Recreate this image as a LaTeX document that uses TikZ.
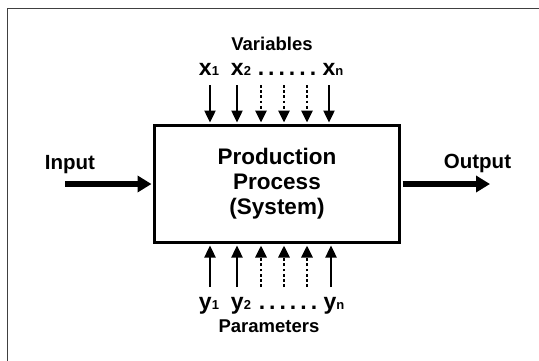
\documentclass[tikz,border=0pt]{standalone}
\usepackage{fontspec}
\setmainfont{Liberation Sans}
\usetikzlibrary{arrows.meta}
% subscript digit set small on the baseline
\newcommand\lowidx[1]{{\fontsize{13}{13}\selectfont #1}}
% row of six dots
\newcommand\dotrow{.\hspace{4pt}.\hspace{4pt}.\hspace{4pt}.\hspace{4pt}.\hspace{4pt}.}
\tikzset{
  frameline/.style={draw=black!75, line width=1.6pt},
  procbox/.style={draw=black, line width=3pt, minimum width=245pt, minimum height=117pt,
    align=center, font=\fontsize{22.5}{25}\selectfont\bfseries, inner sep=0pt},
  thinarrow/.style={line width=2.4pt, -{Triangle[length=12pt,width=11pt]}},
  dotarrow/.style={line width=2.8pt, dash pattern=on 2.8pt off 2.4pt,
    -{Triangle[length=12pt,width=11pt]}},
  fatarrow/.style={line width=5.5pt, -{Triangle[length=14pt,width=16pt]}},
  biglabel/.style={font=\fontsize{20.5}{20.5}\selectfont\bfseries, anchor=base, inner sep=0pt},
  titlelabel/.style={font=\fontsize{18.5}{18.5}\selectfont\bfseries, anchor=base, inner sep=0pt},
  idxlabel/.style={font=\fontsize{23}{23}\selectfont\bfseries, anchor=base, inner sep=0pt},
}
\begin{document}
\begin{tikzpicture}[x=1pt, y=-1pt]
\useasboundingbox (0,0) rectangle (539,360);
% outer frame, running off the right and lower edges
\fill[white] (7.5,8.5) rectangle (545,365);
\draw[frameline] (7.5,365) -- (7.5,8.5) -- (545,8.5);

% the process block
\node[procbox] (proc) at (277,184) {Production\\Process\\(System)};

% input and output
\node[biglabel] (inlab) at (70,169) {Input};
\node[biglabel] (outlab) at (477.5,168) {Output};
\coordinate (instart) at (65,184);
\coordinate (outend) at (490,184);
\draw[fatarrow, shorten >=1.5pt] (instart) -- (instart -| proc.west);
\draw[fatarrow, shorten <=1.5pt] (instart -| proc.east) -- (outend);

% variables above the block
\node[titlelabel] (varlab) at (272,50.5) {Variables};
\node[idxlabel] (x1) at (209,75) {x\lowidx{1}};
\node[idxlabel] (x2) at (241,75) {x\lowidx{2}};
\node[idxlabel] (xdots) at (287,75) {\dotrow};
\node[idxlabel] (xn) at (333,75) {x\lowidx{n}};
\foreach \i/\xx in {1/210,2/237,6/329}{
  \coordinate (t\i) at (\xx,85);
  \draw[thinarrow, shorten >=1.5pt] (t\i) -- (t\i |- proc.north);
}
\foreach \i/\xx in {3/261,4/284,5/307}{
  \coordinate (t\i) at (\xx,85);
  \draw[dotarrow, shorten >=1.5pt] (t\i) -- (t\i |- proc.north);
}

% parameters below the block
\node[idxlabel] (y1) at (209,309) {y\lowidx{1}};
\node[idxlabel] (y2) at (241,309) {y\lowidx{2}};
\node[idxlabel] (ydots) at (288,309) {\dotrow};
\node[idxlabel] (yn) at (334,309) {y\lowidx{n}};
\node[titlelabel] (parlab) at (269,332) {Parameters};
\foreach \i/\xx in {1/210,2/237,6/331}{
  \coordinate (b\i) at (\xx,287);
  \draw[thinarrow, shorten >=1.5pt] (b\i) -- (b\i |- proc.south);
}
\foreach \i/\xx in {3/261,4/284,5/307}{
  \coordinate (b\i) at (\xx,287);
  \draw[dotarrow, shorten >=1.5pt] (b\i) -- (b\i |- proc.south);
}
\end{tikzpicture}
\end{document}
